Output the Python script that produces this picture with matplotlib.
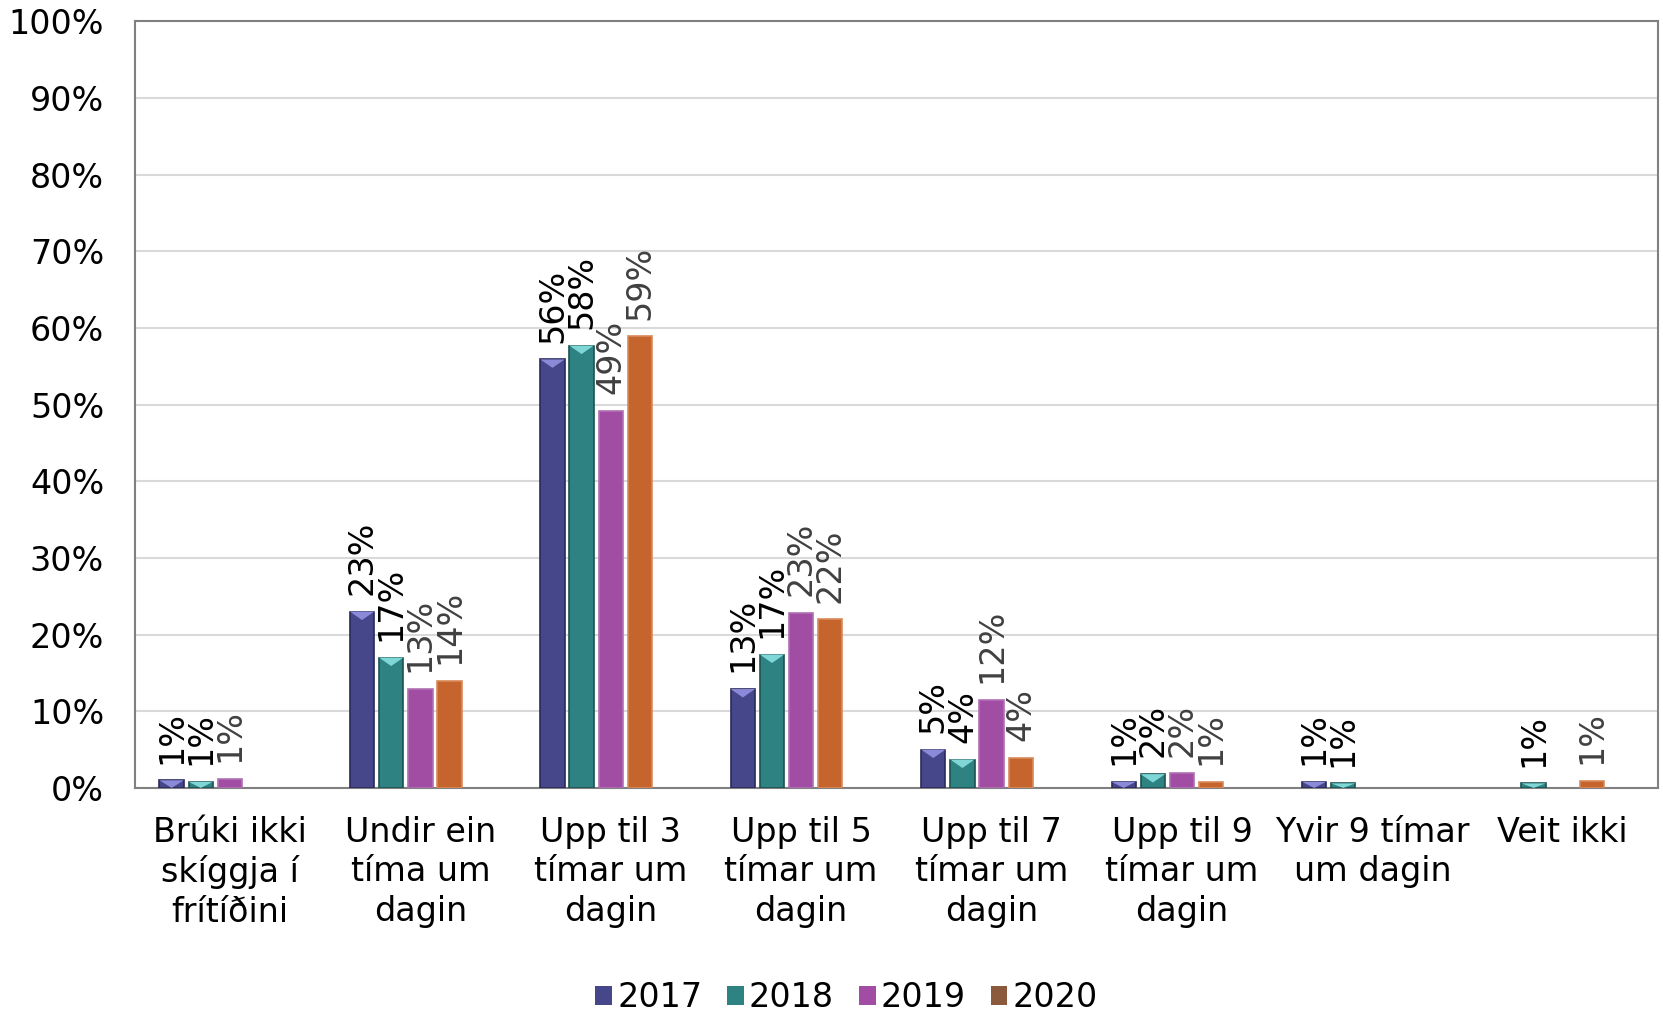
import numpy as np
import matplotlib.pyplot as plt
from matplotlib.patches import Patch, Polygon

plt.rcParams['font.family'] = ['DejaVu Sans']

categories = [
    "Brúki ikki\nskíggja í\nfrítíðini",
    "Undir ein\ntíma um\ndagin",
    "Upp til 3\ntímar um\ndagin",
    "Upp til 5\ntímar um\ndagin",
    "Upp til 7\ntímar um\ndagin",
    "Upp til 9\ntímar um\ndagin",
    "Yvir 9 tímar\num dagin",
    "Veit ikki",
]
years = ["2017", "2018", "2019", "2020"]

nan = np.nan
v2017 = [1.0, 23.0, 55.9, 12.9, 5.0, 0.8, 0.8, nan]
v2018 = [0.8, 17.0, 57.7, 17.4, 3.7, 1.8, 0.6, 0.6]
v2019 = [1.2, 12.9, 49.2, 22.8, 11.5, 1.9, nan, nan]
v2020 = [nan, 14.0, 58.9, 22.0, 3.9, 0.8, nan, 0.9]
series = [v2017, v2018, v2019, v2020]

colors = ["#46468A", "#2F8282", "#A04DA3", "#C5652D"]
edges = ["#2A2A5A", "#1B5252", "#B070B3", "#D88A5A"]
bevel_top = ["#8A8AD8", "#7ED6D6", None, None]
legend_colors = ["#46468A", "#2F8282", "#A04DA3", "#8B5A3C"]
label_colors = ["#000000", "#000000", "#404040", "#404040"]

fs = 24

fig = plt.figure(figsize=(16.63, 10.18), dpi=100)
ax = fig.add_axes([0.081, 0.226, 0.916, 0.753])

x = np.arange(len(categories))
pitch = 0.153
width = 0.128
# groups sit left of the tick, one pitch slot is left empty on the right
offsets = (np.arange(4) - 2.0) * pitch

for i, vals in enumerate(series):
    vals = np.array(vals, dtype=float)
    xs = x + offsets[i]
    ok = ~np.isnan(vals)
    ax.bar(xs[ok], vals[ok], width, color=colors[i], edgecolor=edges[i],
           linewidth=1.2, zorder=3)
    for xi, v in zip(xs[ok], vals[ok]):
        # bevelled top for the shaded series
        if bevel_top[i] is not None:
            d = min(1.1, v)
            tri = Polygon([(xi - width / 2, v), (xi + width / 2, v), (xi, v - d)],
                          closed=True, facecolor=bevel_top[i], edgecolor="none", zorder=4)
            ax.add_patch(tri)
        ax.annotate(f"{v:.0f}%", (xi, v), xytext=(0, 12), textcoords="offset points",
                    rotation=90, ha="center", va="bottom", fontsize=fs,
                    color=label_colors[i], zorder=5)

ax.set_xlim(-0.5, len(categories) - 0.5)
ax.set_ylim(0, 100)
ax.set_yticks(np.arange(0, 101, 10))
ax.set_yticklabels([f"{t}%" for t in range(0, 101, 10)])
ax.set_xticks(x)
ax.set_xticklabels(categories, linespacing=1.25)
ax.tick_params(axis="y", length=0, pad=22, labelsize=fs)
ax.tick_params(axis="x", length=0, pad=20, labelsize=fs)
ax.yaxis.grid(True, color="#D9D9D9", linewidth=1.5, zorder=0)
ax.set_axisbelow(True)
for sp in ax.spines.values():
    sp.set_color("#808080")
    sp.set_linewidth(1.5)

handles = [Patch(facecolor=c, edgecolor="none") for c in legend_colors]
fig.legend(handles, years, loc="lower center", bbox_to_anchor=(0.509, -0.026), ncol=4,
           frameon=False, fontsize=fs, handlelength=0.5, handleheight=0.5,
           handletextpad=0.15, columnspacing=0.75)

fig.savefig("out.png", dpi=100)
